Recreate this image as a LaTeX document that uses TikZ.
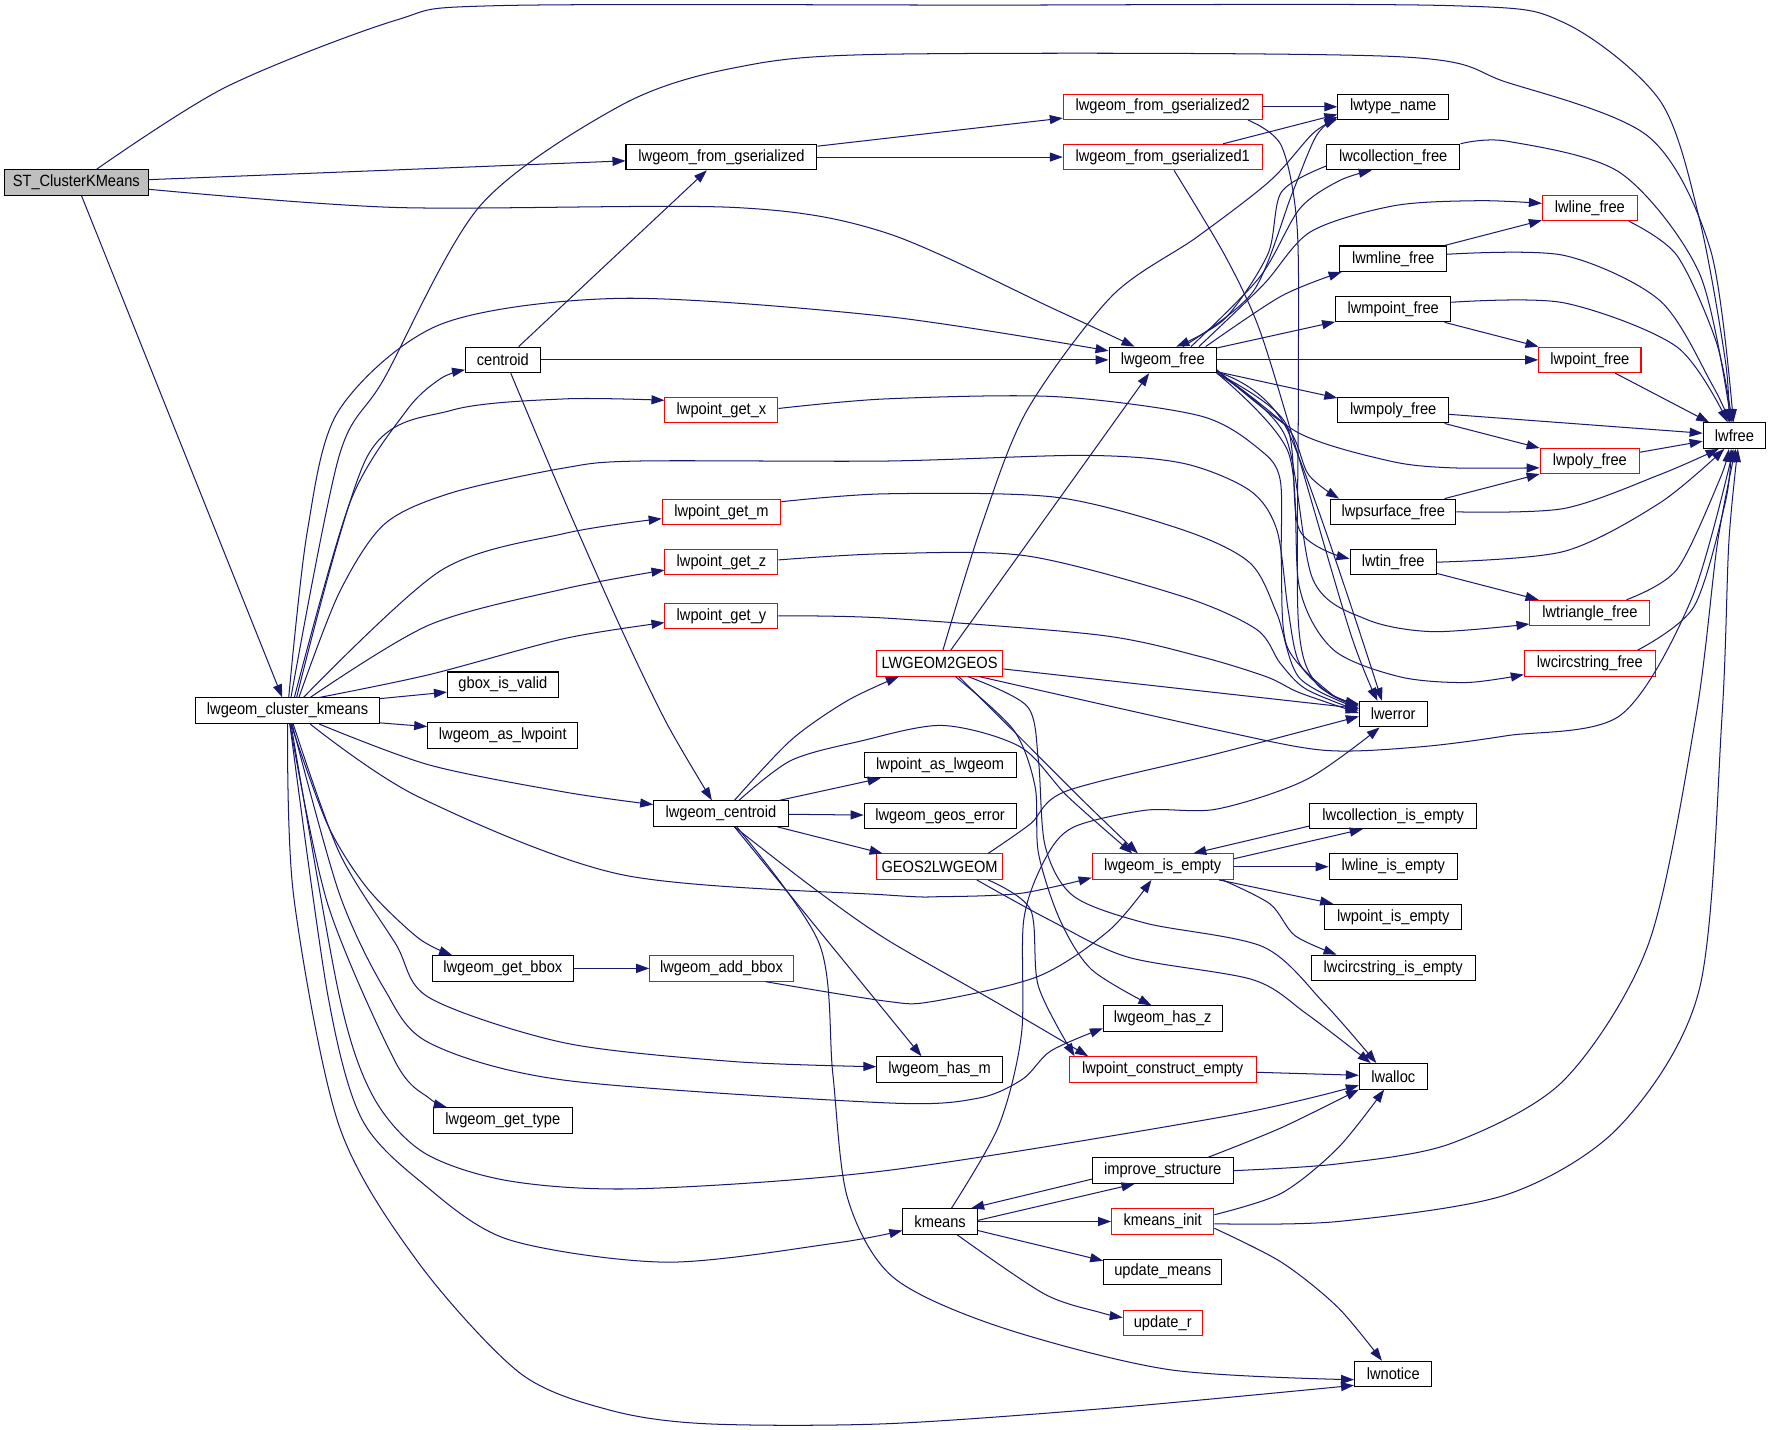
\documentclass[tikz,border=0pt]{standalone}
\usepackage{fontspec}
\usetikzlibrary{arrows.meta}
\newfontfamily\lsans[FakeStretch=0.9]{Liberation Sans}
\newcommand\nodefont{\lsans\fontsize{14.4}{16}\selectfont}
\definecolor{edgec}{RGB}{25,25,112}
\definecolor{stgray}{RGB}{191,191,191}
\tikzset{
  nb/.style={draw=black, line width=0.9pt, fill=white, minimum height=22.6pt, inner sep=0pt, font=\nodefont, text=black},
  nr/.style={nb, draw=red},
  e/.style={draw=edgec, line width=0.9pt, -{Triangle[length=11.5pt,width=8pt]}},
}
\begin{document}
\begin{tikzpicture}[x=1pt,y=-1pt]
\fill[white] (0,0) rectangle (1568.2,1264.7);
\useasboundingbox (0,0) rectangle (1568.2,1264.7);
% nodes
\node[nb,fill=stgray,minimum width=127pt] (st) at (67.5,161.5) {ST\_ClusterKMeans};
\node[nb,minimum width=169pt] (lfg) at (638.5,139) {lwgeom\_from\_gserialized};
\node[nb,minimum width=66pt] (cen) at (445,318.5) {centroid};
\node[nr,minimum width=100pt] (gx) at (638.5,363) {lwpoint\_get\_x};
\node[nr,minimum width=105pt] (gm) at (638.5,453) {lwpoint\_get\_m};
\node[nr,minimum width=100pt] (gz) at (638.5,497.5) {lwpoint\_get\_z};
\node[nr,minimum width=100pt] (gy) at (638.5,545) {lwpoint\_get\_y};
\node[nb,minimum width=98pt] (gbv) at (445,606) {gbox\_is\_valid};
\node[nb,minimum width=163pt] (clk) at (254.5,629) {lwgeom\_cluster\_kmeans};
\node[nr,minimum width=176pt] (lfg2) at (1029,94.5) {lwgeom\_from\_gserialized2};
\node[nb,minimum width=98pt] (ltn) at (1233,94.5) {lwtype\_name};
\node[nr,minimum width=176pt] (lfg1) at (1029,139) {lwgeom\_from\_gserialized1};
\node[nb,minimum width=118pt] (lcf) at (1233,139) {lwcollection\_free};
\node[nr,minimum width=84pt] (llf) at (1407,184) {lwline\_free};
\node[nb,minimum width=94.5pt] (lmlf) at (1233,229) {lwmline\_free};
\node[nb,minimum width=102pt] (lmpf) at (1233,273.5) {lwmpoint\_free};
\node[nb,minimum width=95pt] (lgf) at (1029,318.5) {lwgeom\_free};
\node[nr,minimum width=90.5pt] (lpf) at (1407,318.5) {lwpoint\_free};
\node[nb,minimum width=98pt] (lmpyf) at (1233,363) {lwmpoly\_free};
\node[nb,minimum width=55.5pt] (lwfree) at (1535,385.5) {lwfree};
\node[nr,minimum width=88pt] (lpyf) at (1407,408) {lwpoly\_free};
\node[nb,minimum width=111pt] (lpsf) at (1233,453) {lwpsurface\_free};
\node[nb,minimum width=76.5pt] (ltinf) at (1233,497.5) {lwtin\_free};
\node[nr,minimum width=106pt] (ltrf) at (1407,542.5) {lwtriangle\_free};
\node[nr,minimum width=112pt] (l2g) at (831.5,587) {LWGEOM2GEOS};
\node[nr,minimum width=116pt] (lcsf) at (1407,587) {lwcircstring\_free};
\node[nb,minimum width=60pt] (lwerror) at (1233,632) {lwerror};
\node[nb,minimum width=133pt] (asp) at (445,651) {lwgeom\_as\_lwpoint};
\node[nb,minimum width=119pt] (lgc) at (638,720) {lwgeom\_centroid};
\node[nb,minimum width=125pt] (ggb) at (445,857) {lwgeom\_get\_bbox};
\node[nr,minimum width=127pt] (gab) at (638.5,857) {lwgeom\_add\_bbox};
\node[nb,minimum width=122.5pt] (ggt) at (445,991.5) {lwgeom\_get\_type};
\node[nb,minimum width=111pt] (hm) at (831.5,946.5) {lwgeom\_has\_m};
\node[nb,minimum width=134.5pt] (pal) at (832,677) {lwpoint\_as\_lwgeom};
\node[nb,minimum width=134.5pt] (gge) at (832,722) {lwgeom\_geos\_error};
\node[nr,minimum width=112pt] (g2l) at (831.5,767) {GEOS2LWGEOM};
\node[nr,minimum width=125pt] (lie) at (1029,767) {lwgeom\_is\_empty};
\node[nb,minimum width=147.5pt] (lcie) at (1233,722) {lwcollection\_is\_empty};
\node[nb,minimum width=113.5pt] (llie) at (1233,767) {lwline\_is\_empty};
\node[nb,minimum width=121.5pt] (lpie) at (1233,811.5) {lwpoint\_is\_empty};
\node[nb,minimum width=145.5pt] (lcsie) at (1233,856.5) {lwcircstring\_is\_empty};
\node[nb,minimum width=105pt] (hz) at (1029,901.5) {lwgeom\_has\_z};
\node[nr,minimum width=165.5pt] (pce) at (1029,946.5) {lwpoint\_construct\_empty};
\node[nb,minimum width=60pt] (lwalloc) at (1233,952.5) {lwalloc};
\node[nb,minimum width=124.5pt] (imp) at (1029,1036) {improve\_structure};
\node[nb,minimum width=66pt] (km) at (832,1081) {kmeans};
\node[nr,minimum width=90.5pt] (kmi) at (1029,1081) {kmeans\_init};
\node[nb,minimum width=104.5pt] (um) at (1029,1125.5) {update\_means};
\node[nr,minimum width=70pt] (ur) at (1029,1171) {update\_r};
\node[nb,minimum width=68.5pt] (lwnotice) at (1233,1216) {lwnotice};
% ST edges
\draw[e] plot[smooth] coordinates {([xshift=18pt]st.north) (200,77) (350,18) (440,5) (870,4.5) (1284,5) (1384,20) (1469,89) (1504,194) (1527,320) ([xshift=-5pt]lwfree.north)};
\draw[e] (st) -- (lfg);
\draw[e] plot[smooth] coordinates {([yshift=-6pt]st.east) (350,183.6) (650,183.6) (784,206) (934,274) ([xshift=-25pt]lgf.north)};
\draw[e] (st) -- (clk);
% lwgeom_from_gserialized
\draw[e] (lfg) -- (lfg2);
\draw[e] (lfg) -- (lfg1);
\draw[e] (lfg2) -- (ltn);
\draw[e] plot[smooth] coordinates {([xshift=-13pt]lfg2.south east) (1134,129) (1148,202) (1149,350) (1149,550) (1165,605) ([yshift=8pt]lwerror.west)};
\draw[e] ([xshift=-35pt]lfg1.north east) -- ([yshift=5pt]ltn.south west);
\draw[e] plot[smooth] coordinates {([xshift=10pt]lfg1.south) (1084,226) (1114,290) (1145,390) (1195,560) ([xshift=-14pt]lwerror.north)};
% lwgeom_free out
\draw[e] plot[smooth] coordinates {([xshift=18pt]lgf.north) (1109,258) (1144,170) (1165,120) ([yshift=3pt]ltn.south west)};
\draw[e] plot[smooth] coordinates {([xshift=25pt]lgf.north) (1115,245) (1150,185) (1185,160) ([xshift=-19pt]lcf.south)};
\draw[e] plot[smooth] coordinates {([xshift=32pt]lgf.north) (1118,252) (1160,205) (1234,182) (1309,177.6) ([yshift=4pt]llf.west)};
\draw[e] plot[smooth] coordinates {([yshift=-8pt]lcf.west) (1134,170) (1122,225) (1084,282) ([xshift=12pt]lgf.north)};
\draw[e] plot[smooth] coordinates {([xshift=38pt]lgf.north) (1134,262) ([xshift=2pt]lmlf.south west)};
\draw[e] (lgf) -- (lmpf);
\draw[e] (lgf) -- (lpf);
\draw[e] (lgf) -- (lmpyf);
\draw[e] plot[smooth] coordinates {([yshift=3pt]lgf.south east) (1149,383) (1230,408) (1284,414) ([yshift=-6pt]lpyf.west)};
\draw[e] plot[smooth] coordinates {([yshift=2pt]lgf.south east) (1139,378) (1158,420) ([xshift=8pt]lpsf.north west)};
\draw[e] plot[smooth] coordinates {(lgf.south east) (1138,375) (1150,469) ([yshift=3pt]ltinf.west)};
\draw[e] plot[smooth] coordinates {(lgf.south east) (1137,385) (1162,513) (1209,548) (1268,559) ([yshift=2pt]ltrf.south west)};
\draw[e] plot[smooth] coordinates {(lgf.south east) (1140,400) (1150,520) (1180,575) (1239,599) (1298,604) ([yshift=-10pt]lcsf.west)};
\draw[e] plot[smooth] coordinates {([yshift=1pt]lgf.south east) (1139,380) ([xshift=-10pt]lwerror.north)};
% into lwfree
\draw[e] plot[smooth] coordinates {(lcf.north east) (1334,125) (1434,153) (1504,242) ([xshift=-3pt]lwfree.north)};
\draw[e] plot[smooth] coordinates {([xshift=-8pt]llf.south east) (1484,226) (1519,303) ([xshift=-2pt]lwfree.north)};
\draw[e] (lmlf) -- (llf);
\draw[e] plot[smooth] coordinates {([yshift=4pt]lmlf.east) (1384,226) (1469,266) (1515,340) ([xshift=-4pt]lwfree.north)};
\draw[e] (lmpf) -- (lpf);
\draw[e] plot[smooth] coordinates {([yshift=6pt]lmpf.east) (1384,268) (1484,307) ([xshift=-6pt]lwfree.north)};
\draw[e] (lpf) -- (lwfree);
\draw[e] (lmpyf) -- (lwfree);
\draw[e] (lmpyf) -- (lpyf);
\draw[e] (lpyf) -- (lwfree);
\draw[e] (lpsf) -- (lpyf);
\draw[e] plot[smooth] coordinates {(lpsf.east) (1384,450) (1469,420) ([xshift=-14pt]lwfree.south)};
\draw[e] plot[smooth] coordinates {(ltinf.east) (1384,488) (1469,445) ([xshift=-9pt]lwfree.south)};
\draw[e] (ltinf) -- (ltrf);
\draw[e] plot[smooth] coordinates {([xshift=-21pt]ltrf.north east) (1484,504) (1522,424) ([xshift=-5pt]lwfree.south)};
\draw[e] plot[smooth] coordinates {([xshift=-16pt]lcsf.north east) (1499,537) (1527,444) ([xshift=-3pt]lwfree.south)};
\draw[e] plot[smooth] coordinates {([xshift=35pt]l2g.south) (1077,646) (1172,664) (1256,661) (1334,651) (1434,633) (1497,530) ([xshift=-1pt]lwfree.south)};
\draw[e] plot[smooth] coordinates {(imp.east) (1184,1030) (1284,1012) (1384,956) (1459,835) (1501,633) (1520,480) ([xshift=1pt]lwfree.south)};
\draw[e] plot[smooth] coordinates {([yshift=-2pt]kmi.east) (1184,1081) (1334,1057) (1434,996) (1504,875) (1524,633) (1530,480) ([xshift=3pt]lwfree.south)};
% LWGEOM2GEOS
\draw[e] plot[smooth] coordinates {([xshift=3pt]l2g.north) (869,464) (909,363) (984,262) (1059,210) (1124,160) (1162,118) ([yshift=1pt]ltn.south west)};
\draw[e] ([xshift=10pt]l2g.north) -- ([xshift=-12pt]lgf.south);
\draw[e] ([yshift=-5pt]l2g.east) -- ([yshift=5pt]lwerror.west);
\draw[e] plot[smooth] coordinates {([xshift=17pt]l2g.south) (900,650) (960,710) ([xshift=-22pt]lie.north)};
\draw[e] plot[smooth] coordinates {([xshift=14pt]l2g.south) (897,646) (916,696) (919,755) (938,814) (966,858) ([xshift=-10pt]hz.north)};
\draw[e] plot[smooth] coordinates {([xshift=25pt]l2g.south) (909,625) (919,673) (925,749) (950,793) (1014,817) (1118,838) (1172,888) ([xshift=-15pt]lwalloc.north)};
% lwgeom_centroid
\draw[e] plot[smooth] coordinates {([xshift=12pt]lgc.north) (700,655) (750,620) ([xshift=-36pt]l2g.south)};
\draw[e] plot[smooth] coordinates {([xshift=16pt]lgc.north) (700,673) (761,656) (834,642) (903,661) (945,705) ([xshift=-27pt]lie.north)};
\draw[e] ([xshift=-8pt]lgc.north east) -- ([xshift=15pt]pal.south west);
\draw[e] (lgc) -- (gge);
\draw[e] ([xshift=-10pt]lgc.south east) -- ([xshift=6pt]g2l.north west);
\draw[e] plot[smooth] coordinates {([xshift=12pt]lgc.south) (720,786) (784,831) (880,886) ([xshift=-66pt]pce.north)};
\draw[e] ([xshift=12pt]lgc.south) -- ([xshift=-16pt]hm.north);
\draw[e] plot[smooth] coordinates {([xshift=14pt]lgc.south) (725,835) (737,950) (750,1060) (790,1130) (884,1174) (1034,1212) ([yshift=-5pt]lwnotice.west)};
% centroid
\draw[e] ([xshift=14pt]cen.north) -- ([xshift=-13pt]lfg.south);
\draw[e] (cen) -- (lgf);
\draw[e] plot[smooth] coordinates {([xshift=7pt]cen.south) (500,444) (550,557) (590,640) ([xshift=-8pt]lgc.north)};
% lwgeom_cluster_kmeans
\draw[e] plot[smooth] coordinates {([xshift=3pt]clk.north) (300,404) (340,335) (425,182) (550,93) (650,60) (784,48) (1234,50) (1334,73) (1459,121) (1514,222) ([xshift=-1pt]lwfree.north)};
\draw[e] plot[smooth] coordinates {([xshift=1pt]clk.north) (272,470) (300,363) (390,287) (550,264) (784,280) ([yshift=8pt]lgf.west)};
\draw[e] plot[smooth] coordinates {([xshift=6pt]clk.north) (310,444) (360,363) (390,335) ([yshift=3pt]cen.south west)};
\draw[e] plot[smooth] coordinates {([xshift=8pt]clk.north) (325,404) (400,363) (500,353) ([yshift=-3pt]gx.north west)};
\draw[e] plot[smooth] coordinates {([xshift=10pt]clk.north) (300,525) (340,464) (400,436) (500,414) (565,408) (784,408) (959,403) (1047,410) (1106,434) (1130,469) (1140,540) (1150,587) (1178,615) ([yshift=9pt]lwerror.west)};
\draw[e] plot[smooth] coordinates {([xshift=14pt]clk.north) (390,505) (500,472) ([yshift=-6pt]gm.west)};
\draw[e] plot[smooth] coordinates {([xshift=20pt]clk.north) (380,553) (500,521) ([yshift=-7pt]gz.west)};
\draw[e] plot[smooth] coordinates {([xshift=28pt]clk.north) (380,597) (500,565) ([yshift=-6pt]gy.west)};
\draw[e] ([yshift=-1pt]clk.north east) -- ([yshift=-6.5pt]gbv.west);
\draw[e] ([yshift=1pt]clk.south east) -- ([yshift=8pt]asp.west);
\draw[e] plot[smooth] coordinates {([xshift=28pt]clk.south) (380,677) (500,701) ([yshift=8pt]lgc.west)};
\draw[e] plot[smooth] coordinates {([xshift=20pt]clk.south) (370,705) (550,774) (784,792) (834,793.5) (903,790.6) ([yshift=2pt]lie.south west)};
\draw[e] plot[smooth] coordinates {([xshift=3pt]clk.south) (290,730) (325,786) (370,830) ([xshift=18pt]ggb.north west)};
\draw[e] plot[smooth] coordinates {([xshift=5pt]clk.south) (300,754) (350,835) (380,883) (500,923) (650,939.5) ([yshift=2.5pt]hm.west)};
\draw[e] plot[smooth] coordinates {([xshift=4pt]clk.south) (300,790) (340,875) (380,923) (500,956) (784,976) (865,972) (905,955) (930,930) ([yshift=-8.5pt]hz.west)};
\draw[e] plot[smooth] coordinates {([xshift=2pt]clk.south) (290,800) (350,940) (380,972) ([xshift=12pt]ggt.north west)};
\draw[e] plot[smooth] coordinates {([xshift=3pt]clk.south) (300,880) (330,970) (375,1020) (450,1045) (565,1052) (784,1036) (1084,988) ([yshift=-8pt]lwalloc.west)};
\draw[e] plot[smooth] coordinates {([xshift=2pt]clk.south) (290,880) (320,990) (375,1048) (450,1097) (590,1117) (740,1100) ([yshift=-8pt]km.west)};
\draw[e] plot[smooth] coordinates {(clk.south) (260,794) (300,996) (370,1117) (460,1215) (540,1248) (625,1260) (784,1260) (984,1246) ([yshift=-10pt]lwnotice.west)};
% bbox
\draw[e] (ggb) -- (gab);
\draw[e] plot[smooth] coordinates {([xshift=39pt]gab.south) (784,886) (824,886.5) (919,864) (982,823) ([xshift=-10pt]lie.south)};
% GEOS2LWGEOM
\draw[e] plot[smooth] coordinates {([xshift=43pt]g2l.north) (912,729) (944,700) (1077,667) ([yshift=-2pt]lwerror.west)};
\draw[e] plot[smooth] coordinates {([xshift=43pt]g2l.south) (912,805) (919,873) ([xshift=-78pt]pce.north)};
\draw[e] plot[smooth] coordinates {([xshift=33pt]g2l.south) (928.5,814) (998,847) (1108.6,867) (1156,897) ([xshift=-20pt]lwalloc.north)};
% lwgeom_is_empty
\draw[e] ([yshift=7pt]lie.east) -- ([xshift=-27pt]lcie.south);
\draw[e] ([yshift=-9pt]lcie.west) -- ([xshift=27pt]lie.north);
\draw[e] (lie) -- (llie);
\draw[e] ([xshift=-13pt]lie.south east) -- ([xshift=8pt]lpie.north west);
\draw[e] plot[smooth] coordinates {([xshift=-10pt]lie.south east) (1124,800) (1146,828) ([xshift=23pt]lcsie.north west)};
\draw[e] (pce) -- (lwalloc);
% kmeans
\draw[e] ([yshift=-7.5pt]imp.west) -- ([xshift=-6pt]km.north east);
\draw[e] ([yshift=1pt]km.east) -- ([xshift=-25pt]imp.south);
\draw[e] (km) -- (kmi);
\draw[e] ([yshift=-8pt]km.east) -- ([yshift=-2pt]um.north west);
\draw[e] plot[smooth] coordinates {([xshift=15pt]km.south) (924,1145) (974,1161.6) ([yshift=5pt]ur.west)};
\draw[e] plot[smooth] coordinates {([xshift=10pt]km.north) (884,996) (904,915) (906,814) (925,760) (950,732) (1014,717) (1077,716) (1156,690) ([xshift=-12pt]lwerror.south)};
\draw[e] plot[smooth] coordinates {([xshift=40pt]imp.north) (1134,998) (lwalloc.south west)};
\draw[e] plot[smooth] coordinates {([yshift=6pt]kmi.east) (1134,1056) (1184,1016) ([xshift=-8pt]lwalloc.south)};
\draw[e] plot[smooth] coordinates {([yshift=-6pt]kmi.east) (1134,1117) (1184,1157) ([xshift=-10pt]lwnotice.north)};
% get_* to lwerror
\draw[e] plot[smooth] coordinates {([yshift=1.5pt]gx.east) (784,353) (934,351) (1062,368) (1115,398) (1133,425) (1134,498) (1139,572) (1178,614) ([yshift=7pt]lwerror.west)};
\draw[e] plot[smooth] coordinates {([yshift=9pt]gm.east) (784,437) (934,440) (1047,469) (1106,498) (1130,543) (1150,600) ([yshift=5pt]lwerror.west)};
\draw[e] plot[smooth] coordinates {([yshift=2pt]gz.east) (784,490) (909,492) (1047,528) (1112,557) (1133,587) (1156,610) ([yshift=3pt]lwerror.west)};
\draw[e] plot[smooth] coordinates {(gy.east) (784,547) (973,562) (1062,581) (1121,599) (1150,613) ([yshift=1pt]lwerror.west)};
\end{tikzpicture}
\end{document}
